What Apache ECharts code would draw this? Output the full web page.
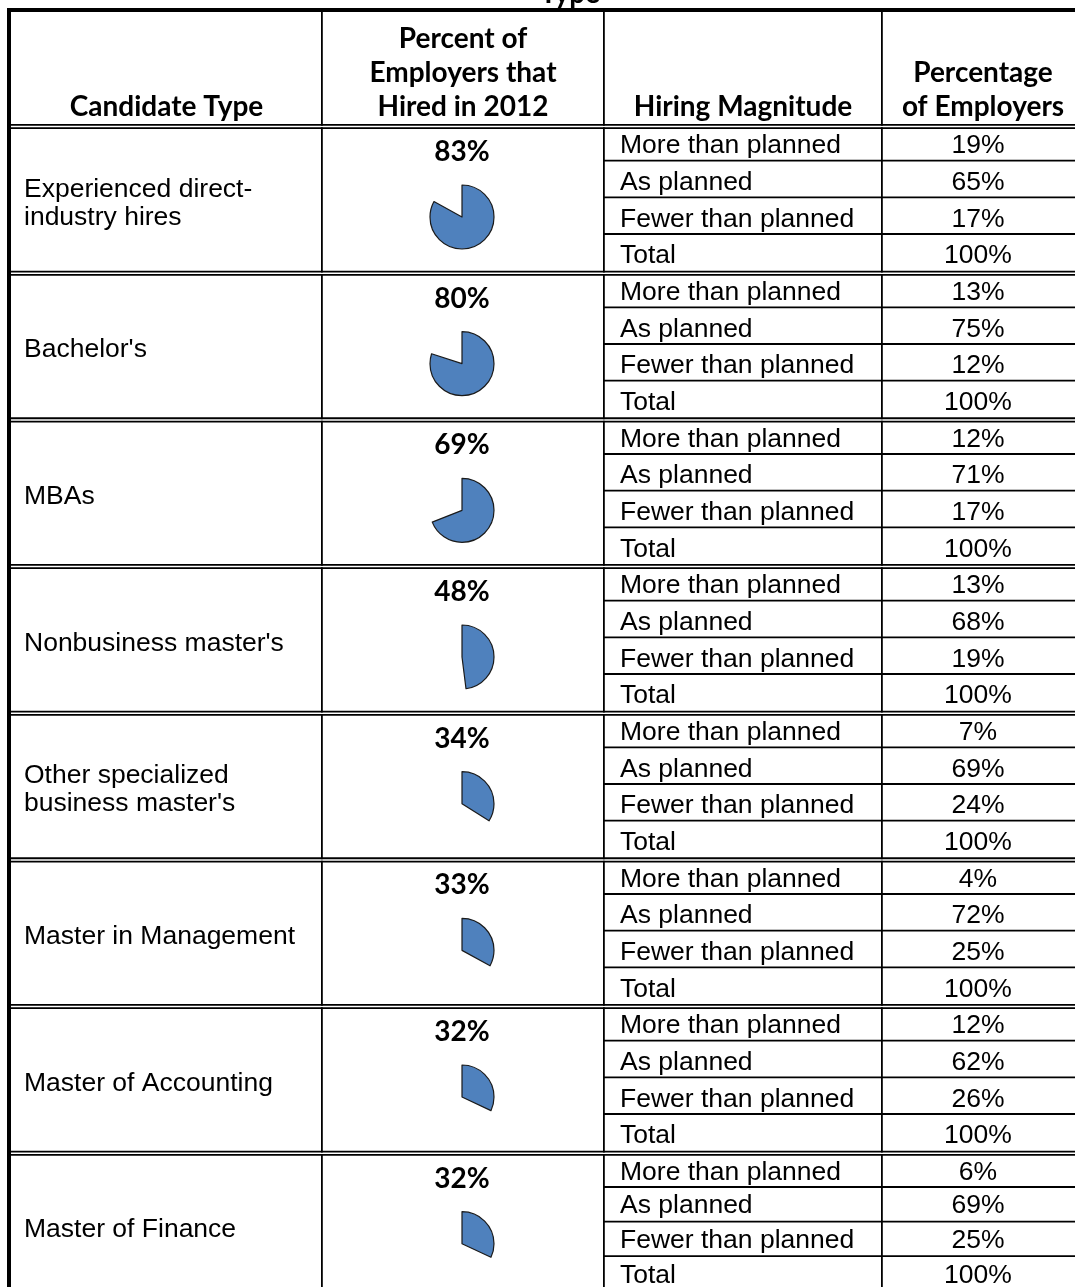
<!DOCTYPE html>
<html>
<head>
<meta charset="utf-8">
<script src="https://cdn.jsdelivr.net/npm/echarts@6/dist/echarts.min.js"></script>
<style>
html, body { margin: 0; padding: 0; background: #fff; }
#main { width: 1075px; height: 1287px; }
</style>
</head>
<body>
<div id="main"></div>
<script>
// table data
var candidates = ['Experienced direct-\nindustry hires', "Bachelor's", 'MBAs', "Nonbusiness master's",
    "Other specialized\nbusiness master's", 'Master in Management', 'Master of Accounting', 'Master of Finance'];
var hiredPct = [83, 80, 69, 48, 34, 33, 32, 32];
var magnitudes = ['More than planned', 'As planned', 'Fewer than planned', 'Total'];
var morePct = [19, 13, 12, 13, 7, 4, 12, 6];
var asPct = [65, 75, 71, 68, 69, 72, 62, 69];
var fewerPct = [17, 12, 17, 19, 24, 25, 26, 25];
var totalPct = [100, 100, 100, 100, 100, 100, 100, 100];
var headers = [['Candidate Type'], ['Percent of', 'Employers that', 'Hired in 2012'], ['Hiring Magnitude'], ['Percentage', 'of Employers']];
var titleText = 'Type';

// layout
var W = 1075, H = 1287;
var colX = [11, 322, 604, 882, 1075];
var top0 = 124, groupH = 146.67;
var rowOff = [0, 36.67, 73.33, 110];      // sub rows inside a group
var lastRowOff = [0, 36.3, 71, 105.5];    // last group rows are a bit shorter
var headFont = 'bold 28px Lato';
var bodyFont = '26.5px "Liberation Sans"';
var blue = '#4F81BD';

var chart = echarts.init(document.getElementById('main'), null, {renderer: 'canvas'});

var g = [];
function rect(x, y, w, h, fill) {
    g.push({type: 'rect', silent: true, shape: {x: x, y: y, width: w, height: h}, style: {fill: fill}});
}
function txt(x, y, s, font, align, lh) {
    g.push({type: 'text', silent: true, x: x, y: y,
        style: {text: s, font: font, fill: '#000', align: align || 'left', verticalAlign: 'middle', lineHeight: lh || 29}});
}

// title remnant at top
txt(570, -6, titleText, headFont, 'center');

// vertical lines
for (var c = 1; c < 4; c++) rect(colX[c] - 1, 12, 1.8, H, '#000');
// outer border
rect(7, 8, W, 4, '#000');
rect(7, 8, 4, H, '#000');

var series = [];
for (var i = 0; i < candidates.length; i++) {
    var yb = top0 + groupH * i;
    var off = i == candidates.length - 1 ? lastRowOff : rowOff;
    // double line above each group
    rect(11, yb + 1.8, W, 1.5, '#fff');
    rect(11, yb, W, 1.8, '#000');
    rect(11, yb + 3.3, W, 1.8, '#000');
    for (var k = 1; k < 4; k++) rect(colX[2], yb + off[k] - 0.9, W, 1.8, '#000');

    txt(24, yb + groupH / 2 + 6, candidates[i], bodyFont, 'left', 28);
    txt(462, yb + 28, hiredPct[i] + '%', headFont, 'center');

    var vals = [morePct[i], asPct[i], fewerPct[i], totalPct[i]];
    for (k = 0; k < 4; k++) {
        var ty = yb + off[k] + (i == candidates.length - 1 && k > 0 ? 19 : 22);
        txt(620, ty, magnitudes[k], bodyFont);
        txt(978, ty, vals[k] + '%', bodyFont, 'center');
    }

    series.push({
        type: 'pie',
        silent: true,
        center: [462, yb + 93],
        radius: 32,
        startAngle: 90,
        clockwise: true,
        label: {show: false},
        labelLine: {show: false},
        data: [
            {value: hiredPct[i], itemStyle: {color: blue, borderColor: '#1a1a1a', borderWidth: 1.2}},
            {value: 100 - hiredPct[i], itemStyle: {color: 'rgba(0,0,0,0)', borderWidth: 0}}
        ]
    });
}

// header text, last line sits at y 107
for (c = 0; c < 4; c++) {
    var lines = headers[c];
    var cx = (colX[c] + colX[c + 1]) / 2;
    if (c == 3) cx = 983;
    for (var j = 0; j < lines.length; j++) {
        txt(cx, 107 - 34 * (lines.length - 1 - j), lines[j], headFont, 'center');
    }
}

chart.setOption({
    animation: false,
    backgroundColor: '#fff',
    series: series,
    graphic: g
});
</script>
</body>
</html>
